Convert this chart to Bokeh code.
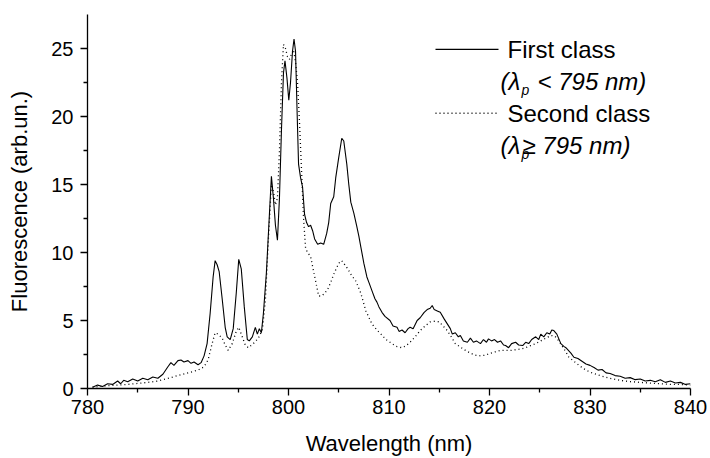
from bokeh.plotting import figure
from bokeh.models import FixedTicker, Label, ColumnDataSource
from bokeh.embed import file_html
from bokeh.resources import INLINE

# ---------------- data ----------------
wl_first = [780.5, 781.0, 781.5, 782.0, 782.5, 783.0, 783.3, 783.6, 784.0, 784.5, 785.0, 785.5,
            786.0, 786.5, 787.0, 787.5, 788.0, 788.3, 788.6, 789.0, 789.3, 789.6, 790.0, 790.3,
            790.6, 791.0, 791.3, 791.6, 791.9, 792.2, 792.5, 792.7, 792.9, 793.1, 793.4, 793.7,
            793.9, 794.2, 794.5, 794.8, 795.05, 795.3, 795.6, 795.9, 796.1, 796.4, 796.7, 796.9,
            797.1, 797.3, 797.5, 797.8, 798.1, 798.3, 798.5, 798.7, 798.9, 799.1, 799.3, 799.5,
            799.65, 799.85, 800.03, 800.2, 800.4, 800.55, 800.7, 800.85, 801.0, 801.2, 801.4, 801.6,
            801.8, 802.0, 802.2, 802.4, 802.6, 802.9, 803.2, 803.5, 803.8, 804.0, 804.2, 804.5,
            804.7, 805.0, 805.3, 805.5, 805.8, 806.0, 806.2, 806.5, 806.8, 807.0, 807.2, 807.5,
            807.8, 808.0, 808.3, 808.6, 808.8, 809.0, 809.3, 809.6, 810.1, 810.4, 810.8, 811.0,
            811.3, 811.6, 811.9, 812.1, 812.4, 812.8, 813.1, 813.5, 813.8, 814.1, 814.3, 814.5,
            814.8, 815.1, 815.5, 815.8, 816.1, 816.3, 816.6, 816.9, 817.1, 817.4, 817.8, 818.1,
            818.4, 818.7, 819.1, 819.4, 819.7, 819.9, 820.2, 820.5, 820.8, 821.1, 821.4, 821.6,
            821.9, 822.2, 822.6, 822.9, 823.3, 823.6, 823.9, 824.2, 824.6, 824.9, 825.1, 825.4,
            825.7, 826.0, 826.2, 826.4, 826.7, 827.1, 827.4, 827.6, 828.1, 828.4, 828.8, 829.2,
            829.6, 830.0, 830.4, 830.8, 831.2, 831.6, 832.0, 832.5, 833.0, 833.5, 834.0, 834.5,
            835.0, 835.5, 836.0, 836.5, 837.0, 837.5, 838.0, 838.5, 839.0, 839.5, 840.0]
fl_first = [0.10, 0.25, 0.15, 0.35, 0.30, 0.55, 0.35, 0.60, 0.50, 0.70, 0.55, 0.75,
            0.65, 0.85, 0.75, 1.05, 1.60, 1.90, 1.70, 2.05, 2.10, 1.95, 2.05, 1.85,
            1.95, 1.75, 1.90, 2.40, 3.30, 5.50, 8.20, 9.40, 9.10, 8.60, 6.60, 4.50,
            3.80, 3.60, 4.40, 7.00, 9.50, 8.80, 6.00, 3.60, 3.50, 3.80, 4.50, 4.00,
            4.40, 4.10, 5.50, 8.50, 12.8, 15.6, 14.0, 12.0, 10.9, 14.0, 19.0, 23.2,
            24.1, 22.8, 21.2, 22.5, 24.8, 25.7, 24.8, 20.5, 16.5, 15.5, 14.8, 12.8,
            12.2, 11.9, 12.0, 11.6, 11.0, 10.6, 10.7, 10.6, 11.4, 12.2, 13.6, 14.1,
            15.5, 17.0, 18.4, 18.2, 16.5, 15.0, 13.7, 12.9, 11.9, 11.2, 10.4, 9.2,
            8.2, 7.8, 7.2, 6.6, 6.35, 6.0, 5.6, 5.3, 5.0, 4.6, 4.5, 4.2,
            4.3, 4.1, 4.4, 4.5, 4.4, 5.0, 5.2, 5.6, 5.8, 5.9, 6.1, 5.8,
            5.7, 5.6, 5.1, 4.75, 4.4, 4.0, 4.1, 3.8, 3.9, 3.5, 3.4, 3.7,
            3.4, 3.5, 3.3, 3.6, 3.4, 3.65, 3.5, 3.6, 3.4, 3.5, 3.2, 3.16,
            3.0, 3.3, 3.4, 3.2, 3.16, 3.4, 3.3, 3.6, 3.8, 3.6, 4.0, 3.8,
            4.1, 4.0, 4.3, 4.26, 4.0, 3.3, 3.1, 3.0, 2.6, 2.3, 2.2, 2.0,
            1.8, 1.7, 1.55, 1.35, 1.4, 1.15, 1.1, 0.95, 0.9, 0.75, 0.8, 0.65,
            0.7, 0.55, 0.6, 0.5, 0.65, 0.45, 0.55, 0.4, 0.45, 0.3, 0.35]

wl_second = [780.5, 782.0, 784.0, 786.0, 787.0, 788.0, 789.0, 790.0, 791.0, 791.6, 792.0, 792.4,
             792.7, 793.0, 793.4, 793.7, 794.0, 794.4, 794.8, 795.05, 795.4, 795.7, 796.0, 796.5,
             797.0, 797.4, 797.7, 798.0, 798.3, 798.5, 798.7, 798.9, 799.1, 799.3, 799.5, 799.7,
             799.9, 800.1, 800.3, 800.5, 800.7, 800.9, 801.1, 801.3, 801.5, 801.7, 801.9, 802.2,
             802.5, 802.7, 803.0, 803.3, 803.6, 803.9, 804.2, 804.5, 804.8, 805.1, 805.3, 805.6,
             805.9, 806.2, 806.7, 807.2, 807.7, 808.3, 808.8, 809.2, 809.7, 810.1, 810.7, 811.3,
             811.7, 812.1, 812.6, 813.1, 813.6, 814.1, 814.6, 815.0, 815.5, 815.8, 816.2, 816.6,
             817.0, 817.5, 818.1, 818.6, 819.1, 819.6, 820.1, 820.6, 821.1, 821.6, 822.1, 822.6,
             823.1, 823.6, 824.1, 824.6, 825.1, 825.6, 826.1, 826.5, 826.8, 827.2, 827.6, 827.9,
             828.4, 829.0, 829.6, 830.2, 831.0, 832.0, 833.0, 834.0, 835.0, 836.0, 837.0, 838.0,
             839.0, 840.0]
fl_second = [0.10, 0.20, 0.30, 0.45, 0.55, 0.75, 0.95, 1.15, 1.35, 1.60, 2.10, 3.30,
             4.10, 4.00, 3.70, 3.20, 2.80, 3.30, 4.20, 4.50, 3.80, 3.20, 3.00, 3.30,
             3.70, 4.30, 6.50, 11.0, 15.0, 14.5, 13.5, 14.0, 17.5, 22.5, 25.3, 25.0,
             24.4, 24.2, 24.6, 24.9, 24.0, 22.5, 19.5, 16.0, 12.5, 10.3, 10.0, 9.7,
             8.6, 7.9, 6.8, 6.8, 7.0, 7.3, 7.8, 8.4, 8.9, 9.3, 9.4, 9.1,
             8.8, 8.4, 7.9, 7.0, 5.7, 4.75, 4.3, 4.0, 3.6, 3.4, 3.1, 3.0,
             3.15, 3.4, 3.8, 4.26, 4.6, 4.9, 4.95, 4.9, 4.5, 4.26, 3.8, 3.3,
             3.1, 2.85, 2.6, 2.45, 2.4, 2.45, 2.6, 2.7, 2.8, 2.8, 2.8, 2.85,
             2.9, 3.0, 3.16, 3.3, 3.5, 3.7, 3.9, 3.85, 3.6, 3.16, 2.7, 2.3,
             2.0, 1.65, 1.35, 1.15, 0.95, 0.75, 0.6, 0.5, 0.45, 0.4, 0.35, 0.3,
             0.3, 0.25]

x_ticks = [780, 790, 800, 810, 820, 830, 840]
x_minor = [785, 795, 805, 815, 825, 835]
y_ticks = [0, 5, 10, 15, 20, 25]
y_minor = [2.5, 7.5, 12.5, 17.5, 22.5]

series_names = ["First class", "Second class"]
lambda_notes = [("< 795 nm)", 37), ("\u2265 795 nm)", 22)]

# ---------------- layout ----------------
X_RANGE = (780, 840)
Y_RANGE = (0, 27.5)
W, H = 710, 458
FL, FR, FT, FB = 87, 690, 14, 389   # frame edges in figure pixels
FONT = "Liberation Sans"

p = figure(width=W, height=H, x_range=X_RANGE, y_range=Y_RANGE,
           output_backend="svg", toolbar_location=None,
           min_border_left=FL, min_border_right=W - FR,
           min_border_top=FT, min_border_bottom=H - FB)
p.outline_line_color = None
p.xgrid.visible = False
p.ygrid.visible = False
p.background_fill_color = "white"
p.border_fill_color = "white"

for ax, ticks, minor in ((p.xaxis[0], x_ticks, x_minor), (p.yaxis[0], y_ticks, y_minor)):
    ax.ticker = FixedTicker(ticks=ticks, minor_ticks=minor)
    ax.axis_line_color = "black"
    ax.axis_line_width = 1.3
    ax.major_tick_line_color = "black"
    ax.major_tick_line_width = 1.3
    ax.minor_tick_line_color = "black"
    ax.minor_tick_line_width = 1.3
    ax.major_tick_in = 0
    ax.major_tick_out = 7
    ax.minor_tick_in = 0
    ax.minor_tick_out = 4
    ax.major_label_text_font = FONT
    ax.major_label_text_font_size = "20px"
    ax.major_label_text_color = "black"
    ax.axis_label_text_font = FONT
    ax.axis_label_text_font_size = "22px"
    ax.axis_label_text_font_style = "normal"
    ax.axis_label_text_color = "black"

p.xaxis.axis_label = "Wavelength (nm)"
p.yaxis.axis_label = "Fluorescence (arb.un.)"
p.xaxis.major_label_standoff = 4
p.xaxis.axis_label_standoff = 14
p.yaxis.major_label_standoff = 7
p.yaxis.axis_label_standoff = 16

src1 = ColumnDataSource(dict(x=wl_first, y=fl_first))
src2 = ColumnDataSource(dict(x=wl_second, y=fl_second))
p.line("x", "y", source=src2, line_color="black", line_width=1.3, line_dash="1 3")
p.line("x", "y", source=src1, line_color="black", line_width=1.1)

# ------------- legend (positions in figure pixels, mapped to data) -------------
def fx(px):
    return X_RANGE[0] + (px - FL) / (FR - FL) * (X_RANGE[1] - X_RANGE[0])

def fy(py):
    return Y_RANGE[0] + (FB - py) / (FB - FT) * (Y_RANGE[1] - Y_RANGE[0])

LEG_LINE_X = (435, 498)
LEG_TEXT_X = 507
NOTE_X = 500
rows = [49, 113]        # y of legend rows (figure px)
note_rows = [81, 145]
dashes = ["solid", "1 3"]

for i, name in enumerate(series_names):
    p.line([fx(LEG_LINE_X[0]), fx(LEG_LINE_X[1])], [fy(rows[i]), fy(rows[i])],
           line_color="black", line_width=1.3, line_dash=dashes[i])
    p.add_layout(Label(x=fx(LEG_TEXT_X), y=fy(rows[i]), text=name,
                       text_font=FONT, text_font_size="24px", text_color="black",
                       text_baseline="middle"))
    note, off = lambda_notes[i]
    p.add_layout(Label(x=fx(NOTE_X), y=fy(note_rows[i]), text="(\u03bb",
                       text_font=FONT, text_font_size="24px", text_font_style="italic",
                       text_color="black", text_baseline="middle"))
    p.add_layout(Label(x=fx(NOTE_X), y=fy(note_rows[i]), x_offset=21, y_offset=-9,
                       text="p", text_font=FONT, text_font_size="14px",
                       text_font_style="italic", text_color="black", text_baseline="middle"))
    p.add_layout(Label(x=fx(NOTE_X), y=fy(note_rows[i]), x_offset=off, text=note,
                       text_font=FONT, text_font_size="24px", text_font_style="italic",
                       text_color="black", text_baseline="middle"))

open("out.html", "w").write(file_html(p, INLINE))
